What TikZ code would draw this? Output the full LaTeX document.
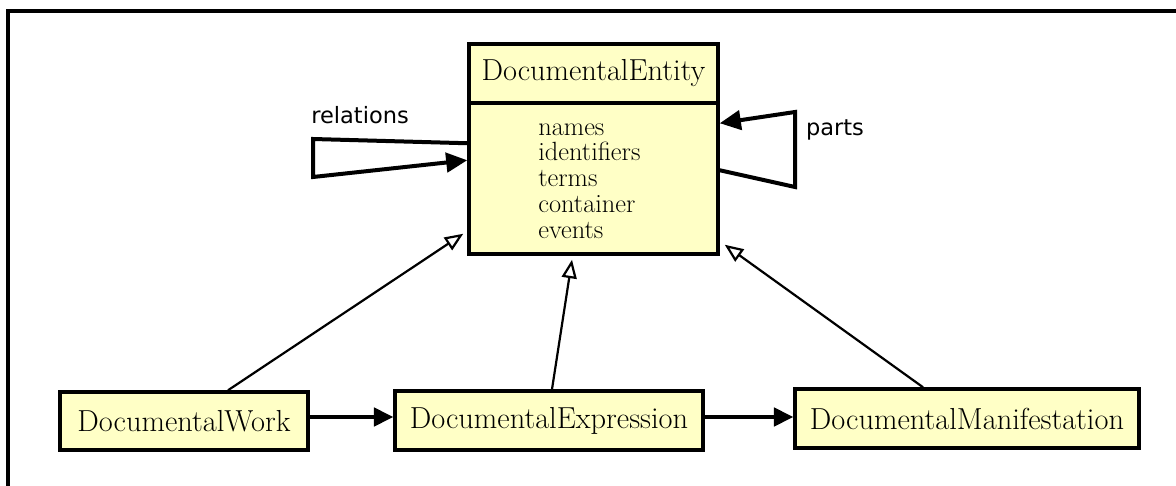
\documentclass[tikz,border=0pt]{standalone}
\usepackage{fontspec}
\usetikzlibrary{arrows.meta,calc}
\newfontfamily\labelfont{DejaVu Sans}
\newlength{\du}
\setlength{\du}{0.02cm}
\definecolor{classfill}{rgb}{1.000000, 1.000000, 0.776471}
\tikzset{
  classbox/.style={draw=black, fill=classfill, line width=3.5\du, rectangle, inner sep=0pt, font=\fontsize{17.3}{20}\selectfont},
  assocline/.style={line width=4\du, -{Triangle[length=12pt,width=11pt]}},
  flowline/.style={line width=3.5\du, -{Triangle[length=11pt,width=10.5pt]}},
  genline/.style={line width=2.2\du, -{Triangle[open,length=10.5pt,width=8.5pt,fill=white]}},
  rolelabel/.style={font=\labelfont\fontsize{12.8}{15}\selectfont, inner sep=0pt}
}

\begin{document}
\begin{tikzpicture}
\pgftransformxscale{1.000000}
\pgftransformyscale{-1.000000}
\useasboundingbox (0\du,0\du) rectangle (1176\du,486\du);
% frame
\draw[line width=3.5\du] (8\du,486\du)--(8\du,11\du)--(1180\du,11\du);
% DocumentalEntity
\node[classbox, minimum width=249\du, minimum height=59\du] (entity) at (593.5\du,73.5\du) {DocumentalEntity};
\node[classbox, minimum width=249\du, minimum height=151\du] (entitybody) at (593.5\du,178.5\du) {};
\node[anchor=west, align=left, inner sep=0pt, font=\fontsize{15}{14.7}\selectfont] (attrs) at (538\du,181\du) {names\\identifiers\\terms\\container\\events};
% relations
\coordinate (relA) at (313\du,139\du);
\coordinate (relB) at (313\du,177\du);
\draw[assocline] ($(entitybody.north west)+(0,42\du)$) -- (relA) -- (relB) -- ($(entitybody.north west)+(0,59\du)$);
\node[rolelabel] (rellabel) at (360\du,115\du) {relations};
% parts
\coordinate (partA) at (795\du,187\du);
\coordinate (partB) at (795\du,112\du);
\draw[assocline] ($(entitybody.north east)+(0,69\du)$) -- (partA) -- (partB) -- ($(entitybody.north east)+(0,22\du)$);
\node[rolelabel] (partlabel) at (835\du,130\du) {parts};
% work, expression, manifestation
\node[classbox, minimum width=248\du, minimum height=58\du] (work) at (184\du,421\du) {DocumentalWork};
\node[classbox, minimum width=308\du, minimum height=59\du] (expression) at (549\du,420.5\du) {DocumentalExpression};
\node[classbox, minimum width=344\du, minimum height=59\du] (manifestation) at (967\du,418.5\du) {DocumentalManifestation};
\draw[flowline] ($(work.east)+(0,-4\du)$) -- ($(expression.west)+(0,-3.5\du)$);
\draw[flowline] ($(expression.east)+(0,-3.5\du)$) -- ($(manifestation.west)+(0,-1.5\du)$);
% generalisation
\draw[genline] ($(work.north)+(44\du,0)$) -- ($(entitybody.south west)+(-4\du,-22\du)$);
\draw[genline] ($(expression.north)+(3\du,0)$) -- ($(entitybody.south)+(-21.5\du,4\du)$);
\draw[genline] ($(manifestation.north)+(-44\du,0)$) -- ($(entitybody.south east)+(5\du,-11\du)$);
\end{tikzpicture}
\end{document}
